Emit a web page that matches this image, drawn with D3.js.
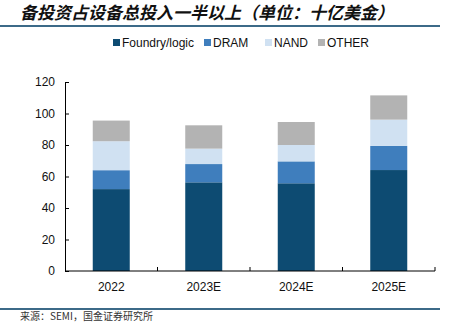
<!DOCTYPE html>
<html><head><meta charset="utf-8">
<script src="https://cdn.jsdelivr.net/npm/d3@7/dist/d3.min.js"></script>
<style>
html,body{margin:0;padding:0;background:#fff;}
svg{display:block;}
</style></head>
<body>
<svg id="chart" width="451" height="322"></svg>
<script>
const categories = ["2022","2023E","2024E","2025E"];
const seriesNames = ["Foundry/logic","DRAM","NAND","OTHER"];
const foundry = [52.0, 56.3, 55.7, 64.1];
const dram = [12.0, 11.6, 13.9, 15.3];
const nand = [18.4, 9.8, 10.4, 16.7];
const other = [13.1, 14.8, 14.6, 15.4];
const yTicks = [0,20,40,60,80,100,120];
const colors = ["#0d4b72","#3f7ebd","#d0e1f2","#b3b3b3"];
const title = "备投资占设备总投入一半以上（单位：十亿美金）";
const source = "来源：SEMI，国金证券研究所";

const svg = d3.select("#chart");
const pLeft = 65, pRight = 435, pTop = 82, pBottom = 271;

// title
svg.append("text").attr("x", 20).attr("y", 19)
  .attr("font-family", "'Noto Sans CJK SC'").attr("font-size", 17)
  .attr("font-style", "italic").attr("font-weight", "bold").attr("fill", "#111")
  .text(title);
svg.append("line").attr("x1", 0).attr("x2", 440).attr("y1", 26).attr("y2", 26)
  .attr("stroke", "#3c6a88").attr("stroke-width", 2);
svg.append("line").attr("x1", 0).attr("x2", 440).attr("y1", 309).attr("y2", 309)
  .attr("stroke", "#3c6a88").attr("stroke-width", 2);
svg.append("text").attr("x", 20).attr("y", 320)
  .attr("font-family", "'Noto Sans CJK SC'").attr("font-size", 10).attr("fill", "#333")
  .text(source);

const x = d3.scaleBand().domain(categories).range([pLeft, pRight]).paddingInner(0.6).paddingOuter(0.3);
const y = d3.scaleLinear().domain([0,120]).range([pBottom, pTop]);

const rows = categories.map((c,i)=>({cat:c, "Foundry/logic":foundry[i], "DRAM":dram[i], "NAND":nand[i], "OTHER":other[i]}));
const stack = d3.stack().keys(seriesNames)(rows);

svg.append("g").selectAll("g").data(stack).join("g")
  .attr("fill", (d,i)=>colors[i])
  .selectAll("rect").data(d=>d).join("rect")
  .attr("x", d=>x(d.data.cat)).attr("width", x.bandwidth())
  .attr("y", d=>y(d[1])).attr("height", d=>y(d[0])-y(d[1]));

// y axis (ticks pointing inward)
const yAxis = svg.append("g").attr("transform", `translate(${pLeft},0)`)
  .call(d3.axisLeft(y).tickValues(yTicks).tickSizeInner(-4).tickSizeOuter(0).tickPadding(10));
yAxis.selectAll("text").attr("font-family","'Liberation Sans', Arial").attr("font-size",12).attr("fill","#111");
yAxis.select(".domain").attr("stroke","#000");
yAxis.selectAll(".tick line").attr("stroke","#000");

// x axis with ticks at band boundaries
const xAxisG = svg.append("g").attr("transform", `translate(0,${pBottom})`);
xAxisG.append("line").attr("x1", pLeft).attr("x2", pRight).attr("stroke","#000");
const bounds = categories.map((c,i)=> pLeft + (i+1)*(pRight-pLeft)/categories.length);
xAxisG.selectAll("line.tk").data(bounds).join("line").attr("class","tk")
  .attr("x1", d=>d).attr("x2", d=>d).attr("y1", 0).attr("y2", -4).attr("stroke","#000");
xAxisG.selectAll("text").data(categories).join("text")
  .attr("x", d=>x(d)+x.bandwidth()/2).attr("y", 20)
  .attr("text-anchor","middle").attr("font-family","'Liberation Sans', Arial").attr("font-size",12).attr("fill","#111")
  .text(d=>d);

// legend
const legendX = [113, 204, 265, 318];
const lg = svg.append("g").selectAll("g").data(seriesNames).join("g")
  .attr("transform", (d,i)=>`translate(${legendX[i]},38)`);
lg.append("rect").attr("width", 7).attr("height", 7).attr("y", 1).attr("fill", (d,i)=>colors[i]);
lg.append("text").attr("x", 9).attr("y", 9).attr("font-family","'Liberation Sans', Arial").attr("font-size",12).attr("fill","#111").text(d=>d);
</script>
</body></html>
